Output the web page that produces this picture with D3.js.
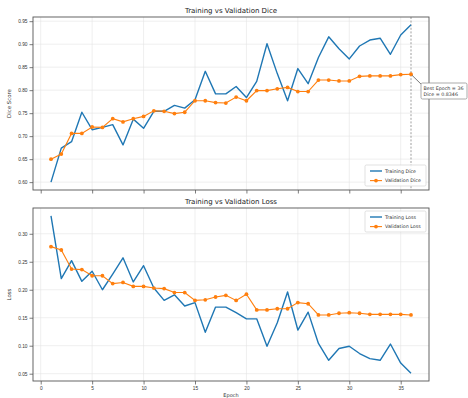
<!DOCTYPE html>
<html>
<head>
<meta charset="utf-8">
<script src="https://cdn.jsdelivr.net/npm/d3@7"></script>
<style>
  body { margin: 0; background: #fff; }
  svg { font-family: "DejaVu Sans", sans-serif; }
  .tick text { fill: #333; font-size: 4.8px; }
  .tick line { stroke: #444; stroke-width: 0.7; }
  .domain { display: none; }
</style>
</head>
<body>
<div id="viz"></div>
<script>
// values
var epochs = [1,2,3,4,5,6,7,8,9,10,11,12,13,14,15,16,17,18,19,20,21,22,23,24,25,26,27,28,29,30,31,32,33,34,35,36];
var trainDice = [0.600,0.674,0.688,0.752,0.714,0.719,0.725,0.681,0.737,0.717,0.754,0.754,0.767,0.761,0.779,0.841,0.792,0.792,
                 0.808,0.784,0.819,0.901,0.836,0.777,0.847,0.814,0.871,0.916,0.890,0.868,0.896,0.909,0.913,0.878,0.920,0.942];
var valDice = [0.650,0.661,0.706,0.706,0.720,0.719,0.738,0.731,0.738,0.743,0.755,0.754,0.749,0.752,0.777,0.777,0.773,0.772,
               0.785,0.777,0.799,0.799,0.803,0.806,0.797,0.797,0.822,0.822,0.820,0.820,0.830,0.831,0.831,0.831,0.8338,0.8346];
var trainLoss = [0.332,0.220,0.252,0.215,0.233,0.200,0.228,0.257,0.214,0.243,0.203,0.181,0.191,0.171,0.177,0.124,0.169,0.169,
                 0.159,0.148,0.148,0.099,0.141,0.196,0.128,0.160,0.104,0.074,0.095,0.099,0.086,0.077,0.074,0.103,0.069,0.051];
var valLoss = [0.277,0.271,0.237,0.236,0.225,0.225,0.211,0.213,0.206,0.206,0.203,0.202,0.195,0.195,0.181,0.182,0.187,0.190,
               0.181,0.192,0.164,0.164,0.166,0.166,0.177,0.175,0.155,0.155,0.158,0.159,0.158,0.156,0.156,0.156,0.156,0.155];
var xTicks = [0,5,10,15,20,25,30,35];
var diceTicks = [0.60,0.65,0.70,0.75,0.80,0.85,0.90,0.95];
var lossTicks = [0.05,0.10,0.15,0.20,0.25,0.30];
var bestEpoch = 36, bestDice = 0.8346;

var blue = "#1f77b4", orange = "#ff7f0e";

var svg = d3.select("#viz")
  .append("svg")
  .attr("width", 468)
  .attr("height", 398);

var left = 33, right = 429;

// x scale with matplotlib-like 5% margins
var xr = d3.extent(epochs), xpad = (xr[1] - xr[0]) * 0.05;
var x = d3.scaleLinear().domain([xr[0] - xpad, xr[1] + xpad]).range([left, right]);

function panel(top, bottom, trainVals, valVals, yTicks, o) {
  var all = trainVals.concat(valVals);
  var yr = d3.extent(all), ypad = (yr[1] - yr[0]) * 0.05;
  var y = d3.scaleLinear().domain([yr[0] - ypad, yr[1] + ypad]).range([bottom, top]);

  var g = svg.append("g");

  // grid
  g.append("g").selectAll("line").data(xTicks).join("line")
    .attr("x1", function(d) { return x(d); }).attr("x2", function(d) { return x(d); })
    .attr("y1", top).attr("y2", bottom)
    .attr("stroke", "#e4e4e4").attr("stroke-width", 0.6);
  g.append("g").selectAll("line").data(yTicks).join("line")
    .attr("y1", function(d) { return y(d); }).attr("y2", function(d) { return y(d); })
    .attr("x1", left).attr("x2", right)
    .attr("stroke", "#e4e4e4").attr("stroke-width", 0.6);

  // axes
  g.append("g")
    .attr("transform", "translate(" + left + ",0)")
    .call(d3.axisLeft(y).tickValues(yTicks).tickFormat(d3.format(".2f")).tickSize(3.5).tickPadding(2));
  var xa = g.append("g")
    .attr("transform", "translate(0," + bottom + ")")
    .call(d3.axisBottom(x).tickValues(xTicks).tickSize(3.5).tickPadding(2));
  if (!o.xLabels) xa.selectAll("text").remove();

  // best epoch marker
  if (o.best) {
    g.append("line")
      .attr("x1", x(bestEpoch)).attr("x2", x(bestEpoch))
      .attr("y1", top).attr("y2", bottom)
      .attr("stroke", "#777").attr("stroke-width", 0.7)
      .attr("stroke-dasharray", "2,1.6");
  }

  var line = function(vals) {
    return d3.line()
      .x(function(d, i) { return x(epochs[i]); })
      .y(function(d) { return y(d); })(vals);
  };

  g.append("path")
    .attr("d", line(trainVals))
    .attr("fill", "none").attr("stroke", blue).attr("stroke-width", 1.4)
    .attr("stroke-linejoin", "round");
  g.append("path")
    .attr("d", line(valVals))
    .attr("fill", "none").attr("stroke", orange).attr("stroke-width", 1.1);
  g.append("g").selectAll("circle").data(valVals).join("circle")
    .attr("cx", function(d, i) { return x(epochs[i]); })
    .attr("cy", function(d) { return y(d); })
    .attr("r", 1.9)
    .attr("fill", orange);

  // frame
  g.append("rect")
    .attr("x", left).attr("y", top)
    .attr("width", right - left).attr("height", bottom - top)
    .attr("fill", "none").attr("stroke", "#555").attr("stroke-width", 0.9);

  // title and y label
  g.append("text")
    .attr("x", (left + right) / 2).attr("y", top - 4)
    .attr("text-anchor", "middle")
    .style("font-size", "7px").attr("fill", "#222")
    .text(o.title);
  g.append("text")
    .attr("transform", "translate(11," + ((top + bottom) / 2) + ") rotate(-90)")
    .attr("text-anchor", "middle")
    .style("font-size", "5.4px").attr("fill", "#333")
    .text(o.ylabel);

  // legend
  var lg = g.append("g").attr("transform", "translate(365," + o.legendY + ")");
  lg.append("rect")
    .attr("width", 61).attr("height", 21).attr("rx", 1.5)
    .attr("fill", "#fff").attr("fill-opacity", 0.85)
    .attr("stroke", "#ccc").attr("stroke-width", 0.6);
  [[o.names[0], blue, false], [o.names[1], orange, true]].forEach(function(e, i) {
    var yy = 6 + i * 9.6;
    lg.append("line")
      .attr("x1", 5).attr("x2", 17).attr("y1", yy).attr("y2", yy)
      .attr("stroke", e[1]).attr("stroke-width", e[2] ? 1.1 : 1.4);
    if (e[2]) lg.append("circle").attr("cx", 11).attr("cy", yy).attr("r", 1.9).attr("fill", e[1]);
    lg.append("text")
      .attr("x", 20).attr("y", yy).attr("dy", "0.35em")
      .style("font-size", "4.8px").attr("fill", "#333")
      .text(e[0]);
  });

  // annotation
  if (o.best) {
    var px = x(bestEpoch), py = y(bestDice);
    var bx = 421, by = 83;
    g.append("line")
      .attr("x1", px + 1).attr("y1", py + 1)
      .attr("x2", bx + 2).attr("y2", by + 3)
      .attr("stroke", "#555").attr("stroke-width", 0.8);
    g.append("rect")
      .attr("x", bx).attr("y", by).attr("width", 46).attr("height", 16).attr("rx", 1.5)
      .attr("fill", "#fff").attr("stroke", "#888").attr("stroke-width", 0.7);
    g.append("text")
      .attr("x", bx + 2.5).attr("y", by + 6.5)
      .style("font-size", "4.8px").attr("fill", "#333")
      .text("Best Epoch = " + bestEpoch);
    g.append("text")
      .attr("x", bx + 2.5).attr("y", by + 13)
      .style("font-size", "4.8px").attr("fill", "#333")
      .text("Dice = " + bestDice.toFixed(4));
  }
  return g;
}

panel(17, 190, trainDice, valDice, diceTicks, {
  title: "Training vs Validation Dice", ylabel: "Dice Score",
  names: ["Training Dice", "Validation Dice"], legendY: 165, best: true, xLabels: false
});
panel(208, 381, trainLoss, valLoss, lossTicks, {
  title: "Training vs Validation Loss", ylabel: "Loss",
  names: ["Training Loss", "Validation Loss"], legendY: 211, best: false, xLabels: true
});

svg.append("text")
  .attr("x", (left + right) / 2).attr("y", 396.5)
  .attr("text-anchor", "middle")
  .style("font-size", "5px").attr("fill", "#333")
  .text("Epoch");
</script>
</body>
</html>
